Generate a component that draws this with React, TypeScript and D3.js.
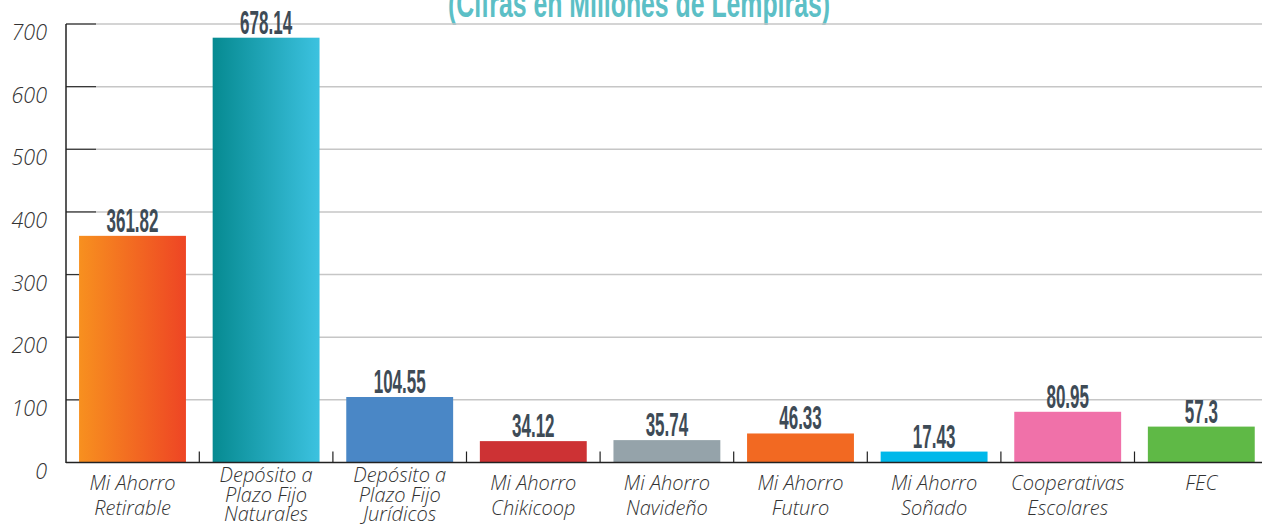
import React from "react";
import * as d3 from "d3";

// datos del grafico
const categories = [
  "Mi Ahorro\nRetirable",
  "Depósito a\nPlazo Fijo\nNaturales",
  "Depósito a\nPlazo Fijo\nJurídicos",
  "Mi Ahorro\nChikicoop",
  "Mi Ahorro\nNavideño",
  "Mi Ahorro\nFuturo",
  "Mi Ahorro\nSoñado",
  "Cooperativas\nEscolares",
  "FEC",
];
const values = [361.82, 678.14, 104.55, 34.12, 35.74, 46.33, 17.43, 80.95, 57.3];
const valueLabels = ["361.82", "678.14", "104.55", "34.12", "35.74", "46.33", "17.43", "80.95", "57.3"];
const yTicks = [0, 100, 200, 300, 400, 500, 600, 700];
const barFills = [
  "url(#gradOrange)",
  "url(#gradTeal)",
  "#4a87c6",
  "#cd3234",
  "#95a3aa",
  "#f26922",
  "#00b8ea",
  "#f071a9",
  "#5fb946",
];
const title = "(Cifras en Millones de Lempiras)";

const W = 1262;
const H = 525;
const left = 66;
const bottom = 462.5;

export default function App() {
  const x = d3
    .scaleBand<string>()
    .domain(categories)
    .range([65.7, 1268.1])
    .paddingInner(0.2)
    .paddingOuter(0.1);
  const y = d3.scaleLinear().domain([0, 700]).range([bottom, 24]);
  const step = x.step();

  return (
    <svg width={W} height={H} style={{ position: "absolute", left: 0, top: 0, background: "#fff" }}>
      <defs>
        <linearGradient id="gradOrange" x1="0" x2="1" y1="0" y2="0">
          <stop offset="0%" stopColor="#f7901f" />
          <stop offset="100%" stopColor="#ee4524" />
        </linearGradient>
        <linearGradient id="gradTeal" x1="0" x2="1" y1="0" y2="0">
          <stop offset="0%" stopColor="#068a91" />
          <stop offset="100%" stopColor="#3cc2e0" />
        </linearGradient>
      </defs>

      {/* titulo, cortado arriba */}
      <text
        x={639}
        y={16.5}
        textAnchor="middle"
        textLength={382}
        lengthAdjust="spacingAndGlyphs"
        style={{ fontFamily: "Liberation Sans", fontWeight: "bold", fontSize: 38, fill: "#5cbfc6" }}
      >
        {title}
      </text>

      {/* grid y ticks */}
      {yTicks.map((t) => (
        <g key={t}>
          {t > 0 && <line x1={left} x2={W} y1={y(t)} y2={y(t)} stroke="#c6c6c6" strokeWidth={1.5} />}
          {t > 0 && <line x1={left} x2={96} y1={y(t)} y2={y(t)} stroke="#333" strokeWidth={1.2} />}
          <text
            x={47}
            y={y(t) + 16}
            textAnchor="end"
            style={{ fontFamily: "'Open Sans'", fontStyle: "italic", fontWeight: 300, fontSize: 21.5, fill: "#333" }}
          >
            {t}
          </text>
        </g>
      ))}

      {/* barras */}
      {categories.map((c, i) => (
        <rect
          key={c}
          x={x(c)}
          y={y(values[i])}
          width={x.bandwidth()}
          height={bottom - y(values[i])}
          fill={barFills[i]}
        />
      ))}

      {/* ejes */}
      <line x1={left} x2={left} y1={24} y2={bottom + 0.5} stroke="#222" strokeWidth={1.5} />
      <line x1={left} x2={W} y1={bottom} y2={bottom} stroke="#222" strokeWidth={1.5} />
      {categories.slice(1).map((c) => (
        <line
          key={c}
          x1={(x(c) as number) - step * 0.1}
          x2={(x(c) as number) - step * 0.1}
          y1={bottom}
          y2={bottom - 11}
          stroke="#222"
          strokeWidth={1.2}
        />
      ))}

      {/* etiquetas de valor */}
      {categories.map((c, i) => {
        const cx = (x(c) as number) + x.bandwidth() / 2;
        return (
          <text
            key={c}
            transform={`translate(${cx},${y(values[i]) - 4}) scale(0.5,1)`}
            textAnchor="middle"
            style={{ fontFamily: "Liberation Sans", fontWeight: "bold", fontSize: 34, fill: "#3e4b56" }}
          >
            {valueLabels[i]}
          </text>
        );
      })}

      {/* etiquetas de categoria */}
      {categories.map((c) => {
        const lines = c.split("\n");
        const cx = (x(c) as number) + x.bandwidth() / 2;
        const lh = lines.length === 3 ? 19.5 : 25;
        const y0 = lines.length === 3 ? 482 : 490;
        return (
          <text
            key={c}
            textAnchor="middle"
            style={{ fontFamily: "'Open Sans'", fontStyle: "italic", fontWeight: 300, fontSize: 20, fill: "#333" }}
          >
            {lines.map((l, k) => (
              <tspan key={k} x={cx} y={y0 + k * lh}>
                {l}
              </tspan>
            ))}
          </text>
        );
      })}
    </svg>
  );
}
